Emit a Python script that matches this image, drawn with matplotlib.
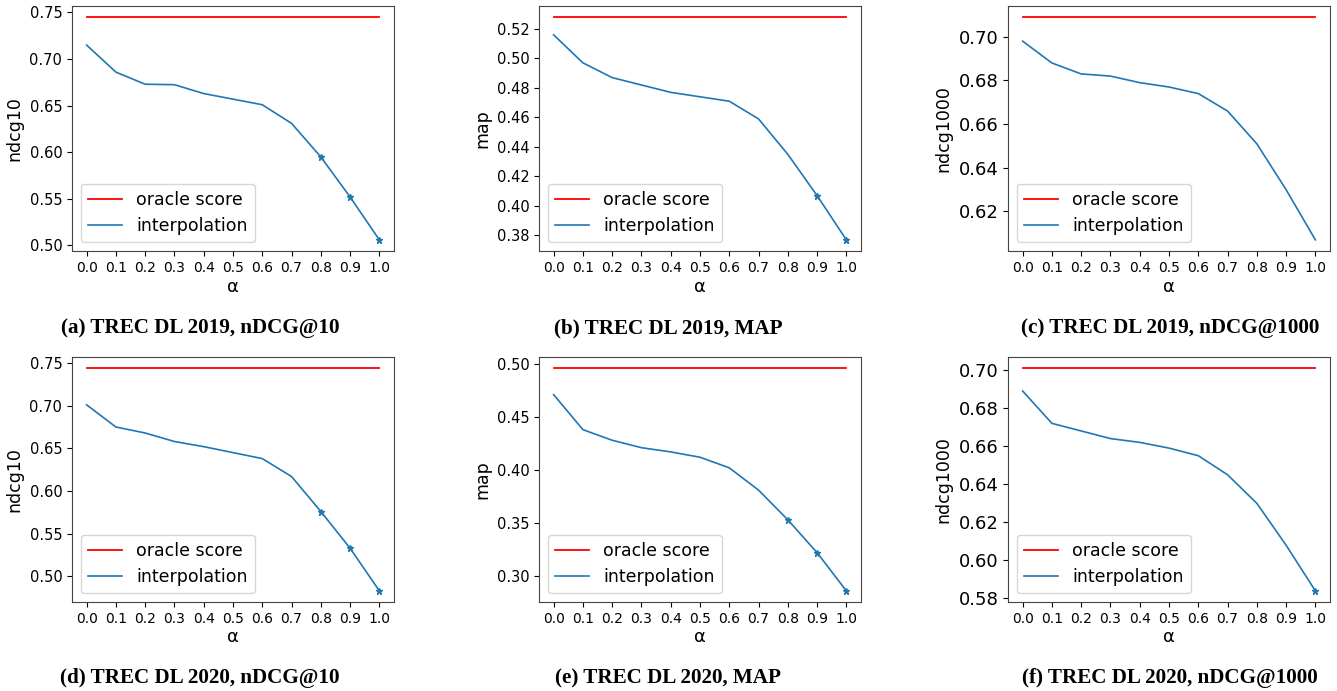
import matplotlib
matplotlib.use('Agg')
import matplotlib.pyplot as plt
from matplotlib.ticker import MultipleLocator

# alpha values shared by every panel
alphas = [0.0, 0.1, 0.2, 0.3, 0.4, 0.5, 0.6, 0.7, 0.8, 0.9, 1.0]

# TREC DL 2019
ndcg10_2019 = [0.715, 0.686, 0.673, 0.6725, 0.663, 0.657, 0.651, 0.631, 0.595, 0.552, 0.506]
map_2019 = [0.516, 0.497, 0.487, 0.482, 0.477, 0.474, 0.471, 0.459, 0.435, 0.407, 0.377]
ndcg1000_2019 = [0.698, 0.688, 0.683, 0.682, 0.679, 0.677, 0.674, 0.666, 0.651, 0.630, 0.607]

# TREC DL 2020
ndcg10_2020 = [0.701, 0.675, 0.668, 0.658, 0.652, 0.645, 0.638, 0.617, 0.576, 0.533, 0.483]
map_2020 = [0.471, 0.438, 0.428, 0.421, 0.417, 0.412, 0.402, 0.381, 0.353, 0.322, 0.286]
ndcg1000_2020 = [0.689, 0.672, 0.668, 0.664, 0.662, 0.659, 0.655, 0.645, 0.630, 0.608, 0.584]

# oracle scores
oracle = [0.745, 0.528, 0.709, 0.744, 0.496, 0.701]

# alphas marked with a star
stars = [[0.8, 0.9, 1.0], [0.9, 1.0], [], [0.8, 0.9, 1.0], [0.8, 0.9, 1.0], [1.0]]

ylabels = ['ndcg10', 'map', 'ndcg1000', 'ndcg10', 'map', 'ndcg1000']
captions = ['(a) TREC DL 2019, nDCG@10', '(b) TREC DL 2019, MAP', '(c) TREC DL 2019, nDCG@1000',
            '(d) TREC DL 2020, nDCG@10', '(e) TREC DL 2020, MAP', '(f) TREC DL 2020, nDCG@1000']
series = [ndcg10_2019, map_2019, ndcg1000_2019, ndcg10_2020, map_2020, ndcg1000_2020]
ystep = [0.05, 0.02, 0.02, 0.05, 0.05, 0.02]
ytick_size = [10.5, 10.5, 13, 10.5, 10.5, 13]

W, H = 1337, 691
fig = plt.figure(figsize=(W / 100, H / 100), dpi=100)

lefts = [72, 539, 1008]
tops = [6, 357]
aw, ah = 322, 245
cap_x = [200, 668, 1170]
cap_y = [328, 678]

for i in range(6):
    r, c = divmod(i, 3)
    ax = fig.add_axes([lefts[c] / W, 1 - (tops[r] + ah) / H, aw / W, ah / H])
    y = series[i]
    ax.plot([alphas[0], alphas[-1]], [oracle[i], oracle[i]], color='red', lw=1.3, label='oracle score')
    ax.plot(alphas, y, color='tab:blue', lw=1.2, label='interpolation')
    # 显著性星号
    sx = [a for a in alphas if a in stars[i]]
    sy = [y[alphas.index(a)] for a in sx]
    ax.plot(sx, sy, '*', color='tab:blue', ms=5, lw=0)
    ax.set_xticks(alphas)
    ax.yaxis.set_major_locator(MultipleLocator(ystep[i]))
    ax.tick_params(axis='x', labelsize=10)
    ax.tick_params(axis='y', labelsize=ytick_size[i])
    ax.set_xlabel('α', fontsize=13, labelpad=2)
    ax.set_ylabel(ylabels[i], fontsize=12.5)
    ax.legend(loc='lower left', fontsize=12.5)
    for s in ax.spines.values():
        s.set_color('#444444')
    fig.text(cap_x[c] / W, 1 - cap_y[r] / H, captions[i], ha='center', va='center',
             fontsize=15.2, fontweight='bold', family='Liberation Serif')

fig.savefig('out.png', dpi=100)
